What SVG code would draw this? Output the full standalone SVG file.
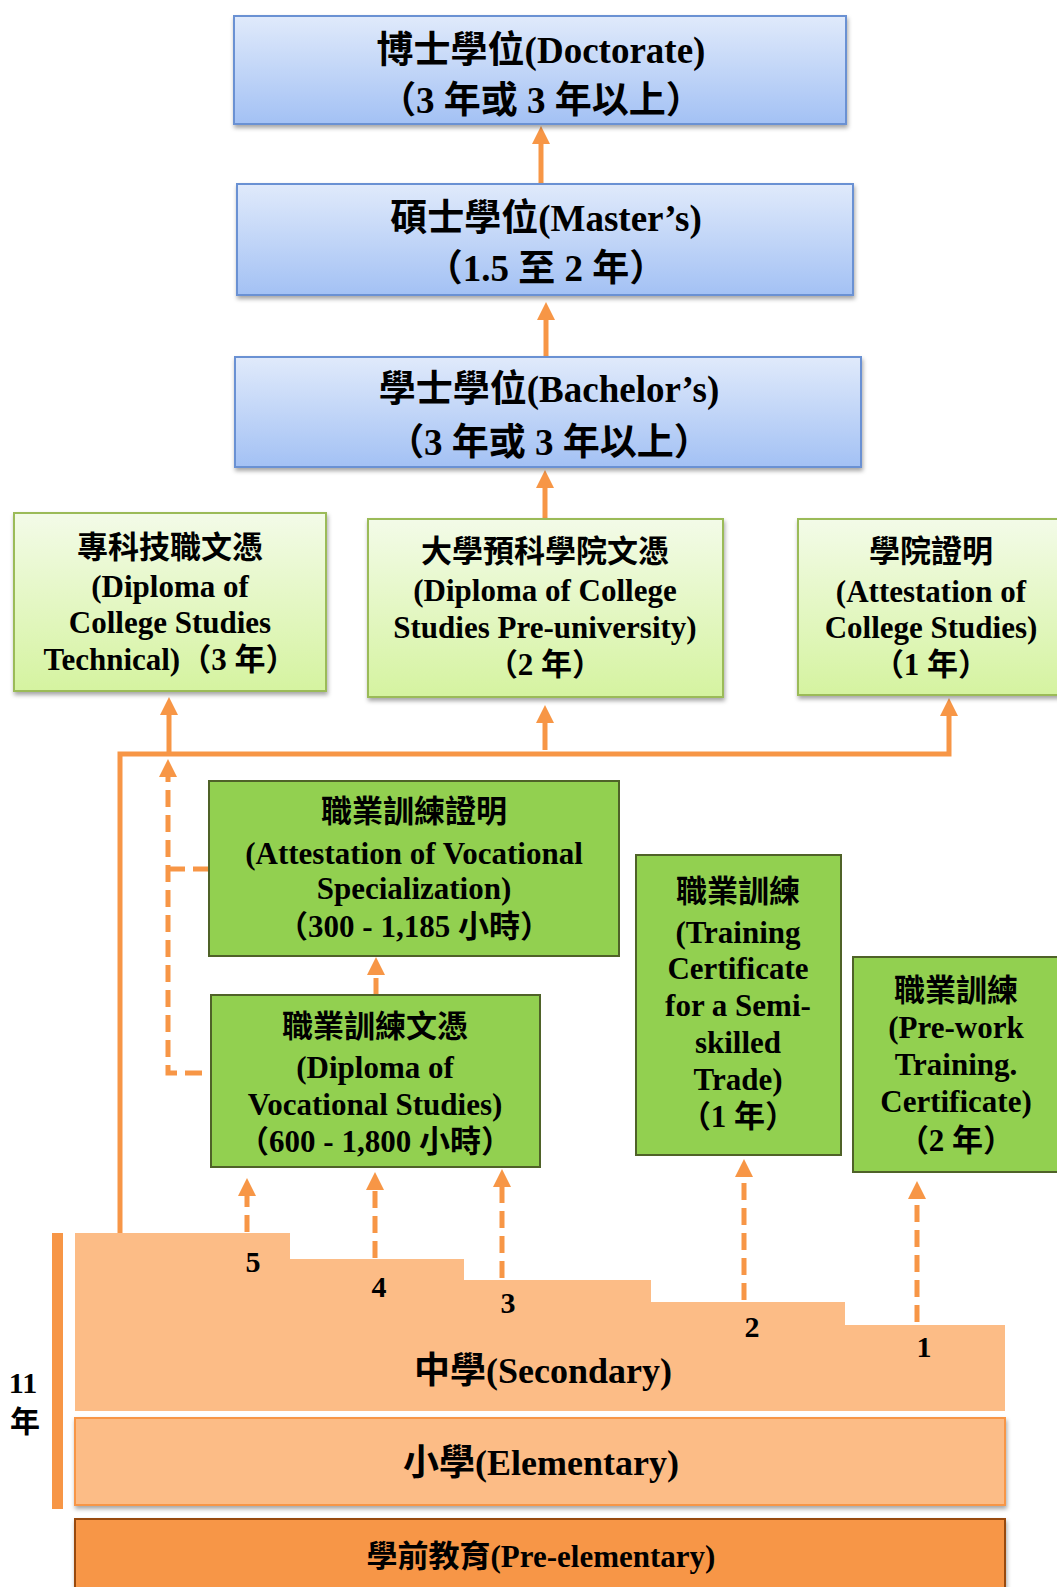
<svg xmlns="http://www.w3.org/2000/svg" width="1057" height="1587" viewBox="0 0 1057 1587">
<defs>
<linearGradient id="gBlue" x1="0" y1="0" x2="0" y2="1"><stop offset="0" stop-color="#E0EAFB"/><stop offset="1" stop-color="#A3C1F4"/></linearGradient>
<linearGradient id="gLG" x1="0" y1="0" x2="0" y2="1"><stop offset="0" stop-color="#F3FBE8"/><stop offset="1" stop-color="#D5F3A0"/></linearGradient>
<filter id="sh" x="-5%" y="-5%" width="110%" height="120%"><feDropShadow dx="1" dy="3" stdDeviation="2" flood-color="#000" flood-opacity="0.35"/></filter>
<marker id="ah" markerUnits="userSpaceOnUse" markerWidth="18" markerHeight="18" viewBox="0 0 18 18" refX="0" refY="9" orient="auto"><path d="M0,0 L18,9 L0,18 z" fill="#F79646"/></marker>
<style>
text{font-family:"Liberation Serif","Noto Sans CJK TC",serif;font-weight:bold;fill:#000;text-anchor:middle}
.b{font-size:37px}
.m{font-size:31px}
.blue{fill:url(#gBlue);stroke:#6A91D3;stroke-width:2;filter:url(#sh)}
.lg{fill:url(#gLG);stroke:#9BBB59;stroke-width:2;filter:url(#sh)}
.dg{fill:#92D050;stroke:#4F6228;stroke-width:2}
.c{fill:none;stroke:#F79646;stroke-width:5}
.d{fill:none;stroke:#F79646;stroke-width:5;stroke-dasharray:17 8}
</style>
</defs>
<rect width="1057" height="1587" fill="#fff"/>

<g id="secondary">
<path d="M75,1233 H290 V1259 H464 V1280 H651 V1302 H845 V1325 H1005 V1411 H75 z" fill="#FCBC86"/>
<text x="543" y="1383" style="font-size:36px">中學(Secondary)</text>
<text x="253" y="1272" style="font-size:30px">5</text>
<text x="379" y="1297" style="font-size:30px">4</text>
<text x="508" y="1313" style="font-size:30px">3</text>
<text x="752" y="1337" style="font-size:30px">2</text>
<text x="924" y="1357" style="font-size:30px">1</text>
</g>
<g id="elementary">
<rect x="75" y="1418" width="930" height="87" fill="#FCBC86" stroke="#F79646" stroke-width="2" filter="url(#sh)"/>
<text x="541" y="1475" style="font-size:36px">小學(Elementary)</text>
</g>
<g id="preelementary">
<rect x="75" y="1519" width="930" height="80" fill="#F79646" stroke="#984807" stroke-width="2" filter="url(#sh)"/>
<text x="541" y="1567" style="font-size:31px">學前教育(Pre-elementary)</text>
</g>
<g id="years">
<rect x="52" y="1233" width="11" height="276" fill="#F79646"/>
<text x="23" y="1393" style="font-size:30px">11</text>
<text x="25" y="1432" style="font-size:30px">年</text>
</g>

<g id="connectors">
<path class="c" d="M541,183 V144" marker-end="url(#ah)"/>
<path class="c" d="M546,357 V320" marker-end="url(#ah)"/>
<path class="c" d="M545,519 V488" marker-end="url(#ah)"/>
<path class="c" d="M120,1233 V754 H949 V716" marker-end="url(#ah)"/>
<path class="c" d="M169,754 V715" marker-end="url(#ah)"/>
<path class="c" d="M545,750 V723" marker-end="url(#ah)"/>
<path class="d" d="M202,1073 H168 V777" marker-end="url(#ah)"/>
<path class="d" d="M168,869 H209"/>
<path class="d" d="M376,995 V975" marker-end="url(#ah)"/>
<path class="d" d="M247,1232 V1196" marker-end="url(#ah)"/>
<path class="d" d="M375,1258 V1190" marker-end="url(#ah)"/>
<path class="d" d="M502,1278 V1187" marker-end="url(#ah)"/>
<path class="d" d="M744,1300 V1177" marker-end="url(#ah)"/>
<path class="d" d="M917,1322 V1199" marker-end="url(#ah)"/>
</g>

<g id="doctorate">
<rect class="blue" x="234" y="16" width="612" height="108"/>
<text class="b" x="541" y="63">博士學位(Doctorate)</text>
<text class="b" x="541" y="113">（3 年或 3 年以上）</text>
</g>
<g id="masters">
<rect class="blue" x="237" y="184" width="616" height="111"/>
<text class="b" x="546" y="231">碩士學位(Master’s)</text>
<text class="b" x="546" y="281">（1.5 至 2 年）</text>
</g>
<g id="bachelors">
<rect class="blue" x="235" y="357" width="626" height="110"/>
<text class="b" x="549" y="402">學士學位(Bachelor’s)</text>
<text class="b" x="549" y="455">（3 年或 3 年以上）</text>
</g>

<g id="dcs-technical">
<rect class="lg" x="14" y="513" width="312" height="178"/>
<text class="m" x="170" y="558">專科技職文憑</text>
<text class="m" x="170" y="597">(Diploma of</text>
<text class="m" x="170" y="633">College Studies</text>
<text class="m" x="170" y="670">Technical)（3 年）</text>
</g>
<g id="dcs-preuniversity">
<rect class="lg" x="368" y="519" width="355" height="178"/>
<text class="m" x="545" y="562">大學預科學院文憑</text>
<text class="m" x="545" y="601">(Diploma of College</text>
<text class="m" x="545" y="638">Studies Pre-university)</text>
<text class="m" x="545" y="675">（2 年）</text>
</g>
<g id="acs">
<rect class="lg" x="798" y="519" width="266" height="176"/>
<text class="m" x="931" y="562">學院證明</text>
<text class="m" x="931" y="602">(Attestation of</text>
<text class="m" x="931" y="638">College Studies)</text>
<text class="m" x="931" y="675">（1 年）</text>
</g>

<g id="avs">
<rect class="dg" x="209" y="781" width="410" height="175"/>
<text class="m" x="414" y="822">職業訓練證明</text>
<text class="m" x="414" y="864">(Attestation of Vocational</text>
<text class="m" x="414" y="899">Specialization)</text>
<text class="m" x="414" y="937">（300 - 1,185 小時）</text>
</g>
<g id="dvs">
<rect class="dg" x="211" y="995" width="329" height="172"/>
<text class="m" x="375" y="1037">職業訓練文憑</text>
<text class="m" x="375" y="1078">(Diploma of</text>
<text class="m" x="375" y="1115">Vocational Studies)</text>
<text class="m" x="375" y="1152">（600 - 1,800 小時）</text>
</g>
<g id="tcst">
<rect class="dg" x="636" y="855" width="205" height="300"/>
<text class="m" x="738" y="902">職業訓練</text>
<text class="m" x="738" y="943">(Training</text>
<text class="m" x="738" y="979">Certificate</text>
<text class="m" x="738" y="1016">for a Semi-</text>
<text class="m" x="738" y="1053">skilled</text>
<text class="m" x="738" y="1090">Trade)</text>
<text class="m" x="738" y="1127">（1 年）</text>
</g>
<g id="prework">
<rect class="dg" x="853" y="957" width="206" height="215"/>
<text class="m" x="956" y="1001">職業訓練</text>
<text class="m" x="956" y="1038">(Pre-work</text>
<text class="m" x="956" y="1075">Training.</text>
<text class="m" x="956" y="1112">Certificate)</text>
<text class="m" x="956" y="1151">（2 年）</text>
</g>
</svg>
